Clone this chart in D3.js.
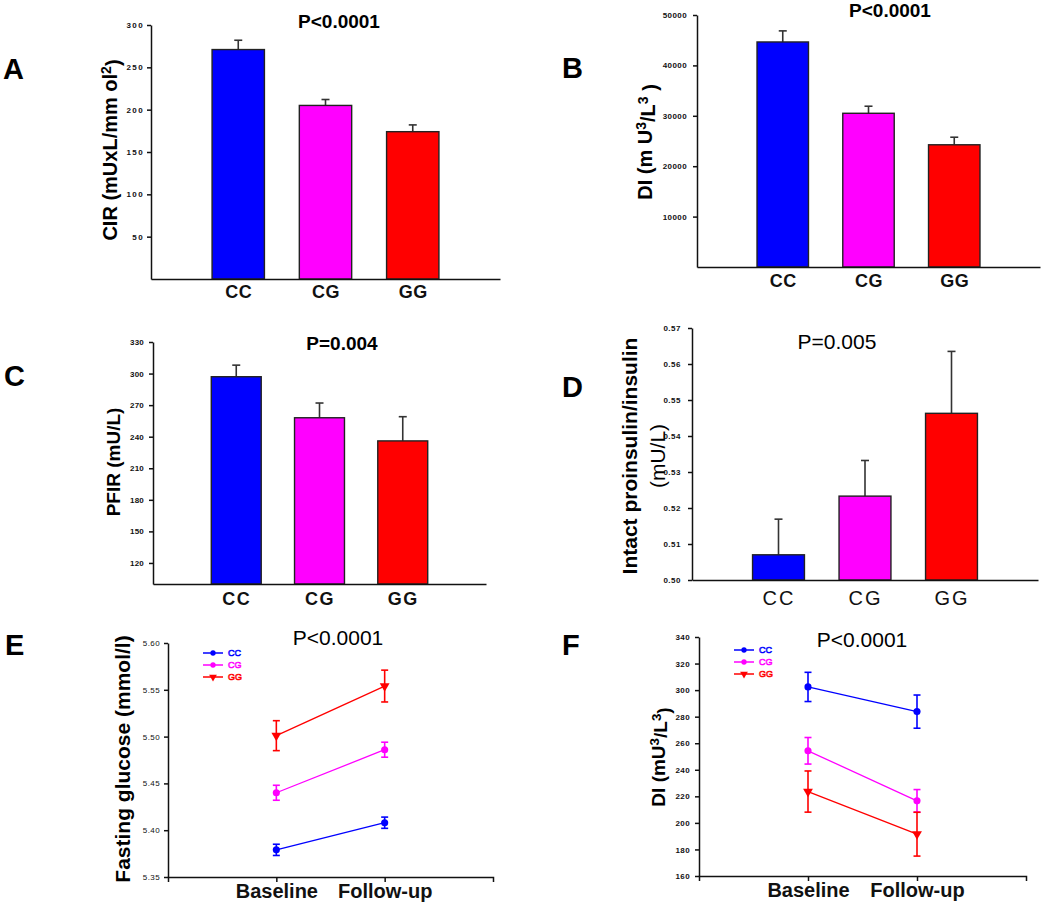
<!DOCTYPE html>
<html lang="en">
<head>
<meta charset="UTF-8">
<title>Genotype panels</title>
<script src="https://cdn.jsdelivr.net/npm/d3@7"></script>
<style>
  body { margin: 0; background: #fff; }
  svg { display: block; font-family: "Liberation Sans", Arial, sans-serif; }
  .axis path, .axis line { stroke: #111; stroke-width: 1.5; fill: none; }
  .axis .tick text { fill: #111; }
</style>
</head>
<body>
<div id="container"></div>
<script>
// genotype groups and their colours
var genotypes = ["CC", "CG", "GG"];
var colors = ["#0000ff", "#ff00ff", "#ff0000"];
var visits = ["Baseline", "Follow-up"];

// A: CIR
var cirMean = [271, 205, 174];
var cirErr = [11, 7, 8];
var cirTicks = [50, 100, 150, 200, 250, 300];

// B: DI
var diMean = [44650, 30500, 24250];
var diErr = [2200, 1400, 1500];
var diTicks = [10000, 20000, 30000, 40000, 50000];

// C: PFIR
var pfirMean = [297, 258, 236];
var pfirErr = [11, 14, 23];
var pfirTicks = [120, 150, 180, 210, 240, 270, 300, 330];

// D: intact proinsulin / insulin
var proMean = [0.507, 0.5233, 0.5463];
var proErr = [0.0099, 0.0099, 0.0172];
var proTicks = [0.50, 0.51, 0.52, 0.53, 0.54, 0.55, 0.56, 0.57];

// E: fasting glucose, baseline vs follow-up
var glucoseCC = [5.379, 5.408];
var glucoseCG = [5.440, 5.486];
var glucoseGG = [5.501, 5.554];
var glucoseErrCC = [0.006, 0.006];
var glucoseErrCG = [0.008, 0.008];
var glucoseErrGG = [0.016, 0.017];
var glucoseTicks = [5.35, 5.40, 5.45, 5.50, 5.55, 5.60];

// F: DI, baseline vs follow-up
var diVisitCC = [302.4, 283.8];
var diVisitCG = [254.3, 216.6];
var diVisitGG = [223.6, 191.5];
var diVisitErrCC = [11, 12.5];
var diVisitErrCG = [10, 8.5];
var diVisitErrGG = [15.5, 16.5];
var diVisitTicks = [160, 180, 200, 220, 240, 260, 280, 300, 320, 340];

var width = 1050, height = 906;
var svg = d3.select("#container").append("svg")
    .attr("width", width)
    .attr("height", height);
svg.append("rect").attr("width", width).attr("height", height).attr("fill", "#fff");

function panelLetter(txt, x, y) {
  svg.append("text").attr("x", x).attr("y", y)
      .style("font-size", "29px").style("font-weight", "bold")
      .text(txt);
}

function title(txt, x, y, size, weight) {
  svg.append("text").attr("x", x).attr("y", y)
      .attr("text-anchor", "middle")
      .style("font-size", size + "px").style("font-weight", weight)
      .text(txt);
}

// rotated y label; parts = [[text, isSuper], ...]
function yLabel(parts, x, y, size, weight) {
  var t = svg.append("text")
      .attr("transform", "translate(" + x + "," + y + ") rotate(-90)")
      .attr("text-anchor", "middle")
      .attr("dy", "0.35em")
      .style("font-size", size + "px").style("font-weight", weight);
  var up = false;
  parts.forEach(function(p) {
    var s = t.append("tspan").text(p[0]);
    if (p[1] && !up) { s.attr("dy", "-0.45em").style("font-size", (size * 0.7) + "px"); up = true; }
    else if (p[1]) { s.style("font-size", (size * 0.7) + "px"); }
    else if (up) { s.attr("dy", "0.45em"); up = false; }
  });
}

function drawBars(o) {
  var g = svg.append("g");
  var x = d3.scalePoint().domain(genotypes).range([o.x0, o.x1]).padding(1);
  var y = d3.scaleLinear().domain(o.domain).range([o.yBottom, o.yTop]);
  var bw = x.step() * 0.6;

  var yAxis = d3.axisLeft(y).tickValues(o.ticks).tickFormat(d3.format(o.fmt))
      .tickSize(4).tickSizeOuter(0).tickPadding(o.pad);
  g.append("g").attr("class", "axis")
      .attr("transform", "translate(" + o.x0 + ",0)")
      .call(yAxis)
    .selectAll("text")
      .style("font-size", "8px").style("font-weight", "bold")
      .style("letter-spacing", o.ls + "px");

  var rows = genotypes.map(function(d, i) { return {g: d, m: o.mean[i], e: o.err[i], c: colors[i]}; });

  // upper error bars
  g.selectAll(".err").data(rows).enter().append("line")
      .attr("x1", function(d) { return x(d.g); })
      .attr("x2", function(d) { return x(d.g); })
      .attr("y1", function(d) { return y(d.m); })
      .attr("y2", function(d) { return y(d.m + d.e); })
      .style("stroke", "#333").style("stroke-width", 1.6);
  g.selectAll(".cap").data(rows).enter().append("line")
      .attr("x1", function(d) { return x(d.g) - 4; })
      .attr("x2", function(d) { return x(d.g) + 4; })
      .attr("y1", function(d) { return y(d.m + d.e); })
      .attr("y2", function(d) { return y(d.m + d.e); })
      .style("stroke", "#333").style("stroke-width", 1.6);

  g.selectAll(".bar").data(rows).enter().append("rect")
      .attr("x", function(d) { return x(d.g) - bw / 2; })
      .attr("y", function(d) { return y(d.m); })
      .attr("width", bw)
      .attr("height", function(d) { return y(o.domain[0]) - y(d.m); })
      .attr("fill", function(d) { return d.c; })
      .style("stroke", "#222").style("stroke-width", 1.4);

  var xAxis = d3.axisBottom(x).tickSize(0).tickSizeOuter(0).tickPadding(o.xpad);
  g.append("g").attr("class", "axis")
      .attr("transform", "translate(0," + o.yBottom + ")")
      .call(xAxis)
    .selectAll("text")
      .style("font-size", o.xsize + "px").style("font-weight", o.xweight)
      .style("letter-spacing", o.xls + "px");
}

function drawLines(o) {
  var g = svg.append("g");
  var x = d3.scalePoint().domain(visits).range([o.x0, o.x1]).padding(1);
  var y = d3.scaleLinear().domain(o.domain).range([o.yBottom, o.yTop]);

  var yAxis = d3.axisLeft(y).tickValues(o.ticks).tickFormat(d3.format(o.fmt))
      .tickSize(4).tickSizeOuter(0).tickPadding(o.pad);
  g.append("g").attr("class", "axis")
      .attr("transform", "translate(" + o.x0 + ",0)")
      .call(yAxis)
    .selectAll("text")
      .style("font-size", "8px").style("font-weight", o.tickWeight)
      .style("letter-spacing", "0.4px");

  var xAxis = d3.axisBottom(x).tickSize(5).tickSizeOuter(5).tickPadding(2);
  g.append("g").attr("class", "axis")
      .attr("transform", "translate(0," + o.yBottom + ")")
      .call(xAxis)
    .selectAll("text")
      .style("font-size", "20px").style("font-weight", "bold");

  var line = d3.line().x(function(d) { return x(d.v); }).y(function(d) { return y(d.m); });
  var triangle = d3.symbol().type(d3.symbolTriangle).size(42);
  var circle = d3.symbol().type(d3.symbolCircle).size(40);

  o.series.forEach(function(s, i) {
    var pts = visits.map(function(v, j) { return {v: v, m: s.mean[j], e: s.err[j]}; });
    var c = colors[i];
    g.append("path").datum(pts).attr("d", line)
        .attr("fill", "none").style("stroke", c).style("stroke-width", 1.3);
    pts.forEach(function(p) {
      var cx = x(p.v);
      g.append("line").attr("x1", cx).attr("x2", cx)
          .attr("y1", y(p.m - p.e)).attr("y2", y(p.m + p.e))
          .style("stroke", c).style("stroke-width", 1.6);
      [p.m - p.e, p.m + p.e].forEach(function(v) {
        g.append("line").attr("x1", cx - 3.5).attr("x2", cx + 3.5)
            .attr("y1", y(v)).attr("y2", y(v))
            .style("stroke", c).style("stroke-width", 1.6);
      });
      g.append("path")
          .attr("d", i === 2 ? triangle() : circle())
          .attr("transform", "translate(" + cx + "," + y(p.m) + ")" + (i === 2 ? " rotate(180)" : ""))
          .attr("fill", c);
    });

    // legend row
    var ly = o.legY + i * o.legStep;
    g.append("line").attr("x1", o.legX).attr("x2", o.legX + 20)
        .attr("y1", ly).attr("y2", ly)
        .style("stroke", c).style("stroke-width", 1.5);
    g.append("path")
        .attr("d", i === 2 ? d3.symbol().type(d3.symbolTriangle).size(26)() : d3.symbol().type(d3.symbolCircle).size(22)())
        .attr("transform", "translate(" + (o.legX + 10) + "," + ly + ")" + (i === 2 ? " rotate(180)" : ""))
        .attr("fill", c);
    g.append("text").attr("x", o.legX + 25).attr("y", ly).attr("dy", "0.35em")
        .style("font-size", "9px").style("fill", "#fff")
        .style("stroke", c).style("stroke-width", 0.7)
        .text(genotypes[i]);
  });
}

// ---- A ----
panelLetter("A", 3, 79);
title("P<0.0001", 339, 28, 19, "bold");
yLabel([["CIR (mUxL/mm ol", false], ["2", true], [")", false]], 110, 150, 20, "bold");
drawBars({x0: 151, x1: 500, yTop: 25, yBottom: 279, domain: [0, 300], ticks: cirTicks, fmt: "d",
  mean: cirMean, err: cirErr, pad: 3, ls: 1.4, xpad: 6, xsize: 18, xweight: "bold", xls: 0.5});

// ---- B ----
panelLetter("B", 562, 78);
title("P<0.0001", 890, 17, 19, "bold");
yLabel([["DI (m U", false], ["3", true], ["/L", false], ["3", true], [" )", false]], 645, 142, 20, "bold");
drawBars({x0: 697, x1: 1040, yTop: 15, yBottom: 267, domain: [0, 50000], ticks: diTicks, fmt: "d",
  mean: diMean, err: diErr, pad: 6, ls: 0.4, xpad: 7, xsize: 18, xweight: "bold", xls: 0.5});

// ---- C ----
panelLetter("C", 4, 386);
title("P=0.004", 342, 350, 19, "bold");
yLabel([["PFIR (mU/L)", false]], 113, 462, 19, "bold");
drawBars({x0: 153, x1: 486, yTop: 342, yBottom: 584, domain: [100, 330], ticks: pfirTicks, fmt: "d",
  mean: pfirMean, err: pfirErr, pad: 5, ls: 0.2, xpad: 8, xsize: 18, xweight: "bold", xls: 1.5});

// ---- D ----
panelLetter("D", 562, 397);
title("P=0.005", 837, 349, 21, "normal");
svg.append("text")
    .attr("transform", "translate(630,456) rotate(-90)")
    .attr("text-anchor", "middle").attr("dy", "0.35em")
    .style("font-size", "21px").style("font-weight", "bold")
    .text("Intact proinsulin/insulin");
svg.append("text")
    .attr("transform", "translate(658,456) rotate(-90)")
    .attr("text-anchor", "middle").attr("dy", "0.35em")
    .style("font-size", "21px").style("font-weight", "normal")
    .text("(mU/L)");
drawBars({x0: 692, x1: 1038, yTop: 328, yBottom: 580, domain: [0.50, 0.57], ticks: proTicks, fmt: ".2f",
  mean: proMean, err: proErr, pad: 7, ls: 0.5, xpad: 11, xsize: 20, xweight: "normal", xls: 2});

// ---- E ----
panelLetter("E", 5, 655);
title("P<0.0001", 338, 645, 21, "normal");
yLabel([["Fasting glucose (mmol/l)", false]], 123, 759, 21, "bold");
drawLines({x0: 168, x1: 493, yTop: 643, yBottom: 877, domain: [5.35, 5.60], ticks: glucoseTicks, fmt: ".2f",
  pad: 4, tickWeight: "normal", legX: 203, legY: 653, legStep: 12,
  series: [{mean: glucoseCC, err: glucoseErrCC}, {mean: glucoseCG, err: glucoseErrCG}, {mean: glucoseGG, err: glucoseErrGG}]});

// ---- F ----
panelLetter("F", 562, 655);
title("P<0.0001", 862, 647, 21, "normal");
yLabel([["DI (mU", false], ["3", true], ["/L", false], ["3", true], [")", false]], 658, 757, 19, "bold");
drawLines({x0: 699, x1: 1026, yTop: 637, yBottom: 876, domain: [160, 340], ticks: diVisitTicks, fmt: "d",
  pad: 5, tickWeight: "bold", legX: 734, legY: 650, legStep: 12,
  series: [{mean: diVisitCC, err: diVisitErrCC}, {mean: diVisitCG, err: diVisitErrCG}, {mean: diVisitGG, err: diVisitErrGG}]});
</script>
</body>
</html>
